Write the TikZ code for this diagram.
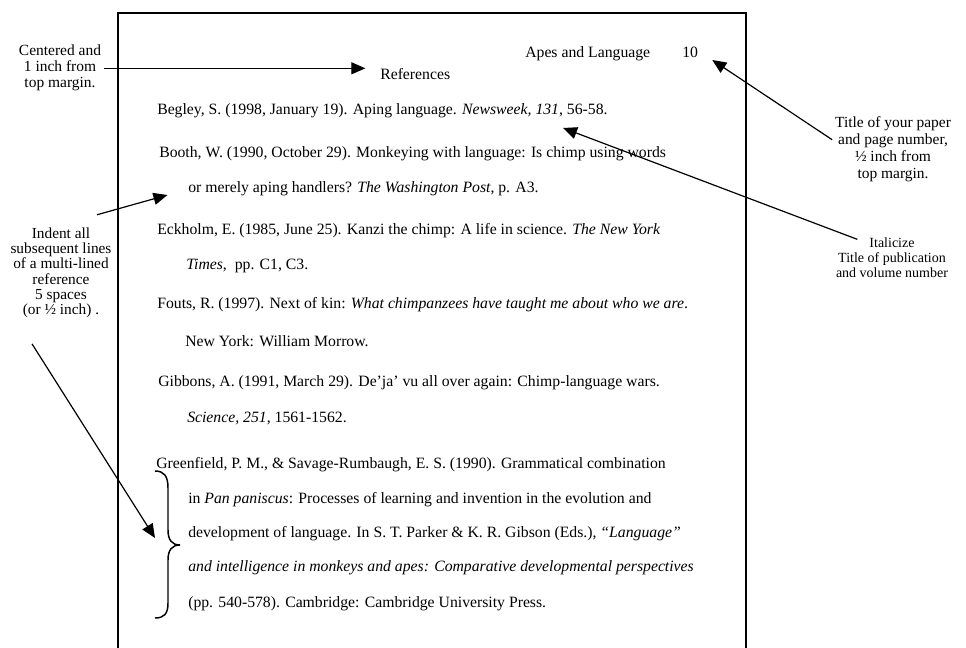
\documentclass[tikz,border=0pt]{standalone}
\usepackage{fontspec}
\setmainfont{Liberation Serif}
\usetikzlibrary{arrows.meta,positioning,calc}

\begin{document}
\begin{tikzpicture}[
    x=0.75pt, y=-0.75pt,
    reftext/.style={anchor=base west, inner sep=0pt, font=\fontsize{11.8}{14}\selectfont},
    note/.style={anchor=base, align=center, inner sep=2pt, font=\fontsize{11.6}{12}\selectfont},
    pointer/.style={-{Triangle[length=10.5pt,width=9pt]}, line width=0.9pt},
    page/.style={line width=1.4pt},
    brace/.style={line width=1.1pt}
]
\useasboundingbox (0,0) rectangle (966,648);

% page outline, open at the bottom
\draw[page] (118,648) -- (118,13) -- (746,13) -- (746,648);

% running head and title
\node[reftext] (runhead) at (525,58) {Apes and Language};
\node[reftext] (pagenum) at (682,58) {10};
\node[reftext] (refhead) at (380,80) {References};

% reference list
\node[reftext] (begley) at (157,115) {Begley, S. (1998, January 19). Aping language. \textit{Newsweek, 131}, 56-58.};
\node[reftext] (booth) at (159,158) {Booth, W. (1990, October 29). Monkeying with language: Is chimp using words};
\node[reftext] (booth2) at (188,193) {or merely aping handlers? \textit{The Washington Post}, p. A3.};
\node[reftext] (eckholm) at (157,235) {Eckholm, E. (1985, June 25). Kanzi the chimp: A life in science. \textit{The New York}};
\node[reftext] (eckholm2) at (186,270) {\textit{Times},\ \ pp. C1, C3.};
\node[reftext] (fouts) at (157,309) {Fouts, R. (1997). Next of kin: \textit{What chimpanzees have taught me about who we are}.};
\node[reftext] (fouts2) at (185,346) {New York: William Morrow.};
\node[reftext] (gibbons) at (158,386) {Gibbons, A. (1991, March 29). De’ja’ vu all over again: Chimp-language wars.};
\node[reftext] (gibbons2) at (187,422) {\textit{Science, 251}, 1561-1562.};
\node[reftext] (green) at (156,468) {Greenfield, P. M., \& Savage-Rumbaugh, E. S. (1990). Grammatical combination};
\node[reftext] (green2) at (188,503) {in \textit{Pan paniscus}: Processes of learning and invention in the evolution and};
\node[reftext] (green3) at (188,537) {development of language. In S. T. Parker \& K. R. Gibson (Eds.), \textit{“Language”}};
\node[reftext] (green4) at (188,571) {\textit{and intelligence in monkeys and apes: Comparative developmental perspectives}};
\node[reftext] (green5) at (188,607) {(pp. 540-578). Cambridge: Cambridge University Press.};

% side notes (base = last line)
\node[note] (centernote) at (60,88) {Centered and\\1 inch from\\top margin.};
\node[note, font=\fontsize{11.5}{11.5}\selectfont] (indentnote) at (61,315) {Indent all\\subsequent lines\\of a multi-lined\\reference\\5 spaces\\(or ½ inch) .};
\node[note, font=\fontsize{11.6}{12.75}\selectfont] (titlenote) at (893,179) {Title of your paper\\and page number,\\½ inch from\\top margin.};
\node[note, font=\fontsize{10.5}{11.25}\selectfont] (italnote) at (892,278) {Italicize\\Title of publication\\and volume number};

% brace round the indented lines
\coordinate (bracetip) at (155,538);
\draw[brace] (155,471) .. controls (164,471) and (168,476) .. (168,488) -- (168,530)
    .. controls (168,540) and (172,545) .. (180,545)
    .. controls (172,545) and (168,550) .. (168,560) -- (168,603)
    .. controls (168,614) and (164,618) .. (155,618);

% pointers
\coordinate (voltip) at (563,128);
\draw[pointer, shorten >=11pt] (centernote.east) -- (centernote.east -| refhead.west);
\draw[pointer] ([yshift=7.5pt]titlenote.west) -- ([xshift=10.5pt,yshift=-1.5pt]pagenum.base east);
\draw[pointer] ([xshift=-26pt,yshift=-3pt]italnote.north) -- (voltip);
\draw[pointer, shorten >=16pt] ([xshift=-13pt,yshift=7.5pt]indentnote.north east) -- (booth2.west);
\draw[pointer] ([xshift=-21.75pt,yshift=-17pt]indentnote.south) -- (bracetip);

\end{tikzpicture}
\end{document}
